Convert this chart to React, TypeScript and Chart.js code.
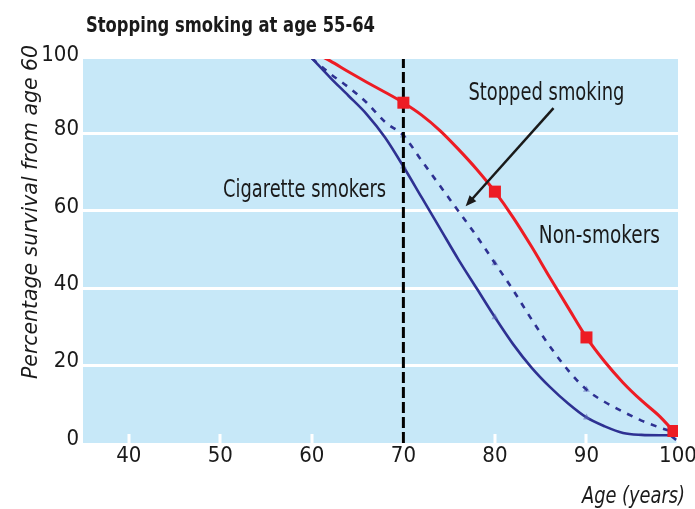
import React, { useEffect, useRef } from "react";
import { Chart, registerables } from "chart.js";

Chart.register(...registerables);

// ---------------- data ----------------
const nonSmokersAge = [60, 62, 64, 66, 68, 70, 72, 74, 76, 78, 80, 82, 84, 86, 88, 90, 92, 94, 96, 98, 99.5];
const nonSmokersPct = [101.3, 98.8, 96, 93.3, 90.7, 88, 84.8, 80.8, 76, 70.8, 65, 58.3, 50.8, 42.8, 35, 27.3, 21, 15.6, 11, 6.9, 3.1];
const nonSmokersMarkerAge = [70, 80, 90, 99.5];

const smokersAge = [60, 62, 64, 66, 68, 70, 72, 74, 76, 78, 80, 82, 84, 86, 88, 90, 92, 94, 96, 98, 99, 99.8];
const smokersPct = [99.5, 94.5, 89.8, 85, 79, 71.5, 63.5, 55.5, 47.5, 40, 32.5, 25.5, 19.5, 14.5, 10.2, 6.6, 4.3, 2.6, 2.1, 2, 2, 0.8];

const stoppedAge = [60, 62, 64, 66, 68, 70, 72, 74, 76, 78, 80, 82, 84, 86, 88, 90, 92, 94, 96, 98, 99.5];
const stoppedPct = [99.5, 95.5, 92, 88, 83, 79.5, 73, 66.5, 60, 53.5, 46.5, 39.5, 32, 25, 18.8, 13.8, 10.6, 8.1, 5.8, 4, 2.8];
const blueMarkerAge = [70, 80, 90];

const stopAgeLine = [70, 70];
const stopAgeLinePct = [0, 100];

const arrowAge = [86.4, 76.8];
const arrowPct = [86.6, 61.2];

const xTickValues = [40, 50, 60, 70, 80, 90, 100];
const yTickValues = [0, 20, 40, 60, 80, 100];

const titleText = "Stopping smoking at age 55-64";
const yTitleText = "Percentage survival from age 60";
const xTitleText = "Age (years)";
const labelTexts = ["Stopped smoking", "Cigarette smokers", "Non-smokers"];
const labelAge = [77.1, 50.3, 84.8];
const labelPct = [88.6, 63.7, 51.6];

// ---------------- styles ----------------
const RED = "#ED1C24";
const BLUE = "#2E3192";
const BG = "#C7E8F8";
const Y_TOP = 99.3;

function hasFont(name: string): boolean {
  const c = document.createElement("canvas").getContext("2d");
  if (!c) return false;
  const t = "Stopping smoking 0123456789 Wmi";
  let ok = false;
  for (const base of ["monospace", "serif"]) {
    c.font = `40px ${base}`;
    const a = c.measureText(t).width;
    c.font = `40px "${name}", ${base}`;
    const b = c.measureText(t).width;
    if (Math.abs(a - b) > 0.5) ok = true;
  }
  return ok;
}

function pickFamily(): { family: string; narrow: boolean } {
  for (const f of ["Liberation Sans Narrow", "Arial Narrow", "DejaVu Sans Condensed", "Roboto Condensed"]) {
    if (hasFont(f)) return { family: `"${f}"`, narrow: true };
  }
  return { family: '"Liberation Sans", Arial, sans-serif', narrow: false };
}

function fitText(
  ctx: CanvasRenderingContext2D,
  text: string,
  x: number,
  y: number,
  width: number,
  font: string,
  color: string
) {
  ctx.save();
  ctx.font = font;
  ctx.fillStyle = color;
  ctx.textAlign = "left";
  ctx.textBaseline = "alphabetic";
  const w = ctx.measureText(text).width;
  ctx.translate(x, y);
  ctx.scale(width / w, 1);
  ctx.fillText(text, 0, 0);
  ctx.restore();
}

const nearest = (ages: number[], vals: number[], a: number) => vals[ages.indexOf(a)];

export default function App() {
  const ref = useRef<HTMLCanvasElement | null>(null);

  useEffect(() => {
    if (!ref.current) return;
    const { family, narrow } = pickFamily();
    const tickSize = narrow ? 22 : 20;

    const bgPlugin = {
      id: "bgPlugin",
      beforeDraw(chart: any) {
        const { ctx, chartArea: a } = chart;
        ctx.save();
        ctx.fillStyle = BG;
        ctx.fillRect(a.left, a.top, a.right - a.left, a.bottom - a.top);
        ctx.restore();
      },
      beforeDatasetsDraw(chart: any) {
        const { ctx, chartArea: a } = chart;
        const xs = chart.scales.x;
        ctx.save();
        ctx.fillStyle = "#ffffff";
        for (const v of xTickValues) {
          const px = xs.getPixelForValue(v);
          ctx.fillRect(Math.round(px) - 1.5, a.bottom - 9, 3, 9);
        }
        ctx.restore();
      },
      afterDatasetsDraw(chart: any) {
        const { ctx } = chart;
        const xs = chart.scales.x;
        const ys = chart.scales.y;
        const x1 = xs.getPixelForValue(arrowAge[0]);
        const y1 = ys.getPixelForValue(arrowPct[0]);
        const x2 = xs.getPixelForValue(arrowAge[1]);
        const y2 = ys.getPixelForValue(arrowPct[1]);
        const ang = Math.atan2(y2 - y1, x2 - x1);
        const hl = 11;
        const hw = 4.5;
        ctx.save();
        ctx.strokeStyle = "#1a1a1a";
        ctx.fillStyle = "#1a1a1a";
        ctx.lineWidth = 2.5;
        ctx.beginPath();
        ctx.moveTo(x1, y1);
        ctx.lineTo(x2 - Math.cos(ang) * hl * 0.8, y2 - Math.sin(ang) * hl * 0.8);
        ctx.stroke();
        ctx.beginPath();
        ctx.moveTo(x2, y2);
        ctx.lineTo(x2 - Math.cos(ang) * hl - Math.sin(ang) * hw, y2 - Math.sin(ang) * hl + Math.cos(ang) * hw);
        ctx.lineTo(x2 - Math.cos(ang) * hl + Math.sin(ang) * hw, y2 - Math.sin(ang) * hl - Math.cos(ang) * hw);
        ctx.closePath();
        ctx.fill();
        ctx.restore();
      },
      afterDraw(chart: any) {
        const { ctx } = chart;
        const xs = chart.scales.x;
        const ys = chart.scales.y;
        // title
        fitText(ctx, titleText, 86, 32, 289, `bold 22px ${family}`, "#1a1a1a");
        // annotations
        const widths = [156, 163, 121];
        labelTexts.forEach((t, i) => {
          fitText(
            ctx,
            t,
            xs.getPixelForValue(labelAge[i]),
            ys.getPixelForValue(labelPct[i]),
            widths[i],
            `24px ${family}`,
            "#1a1a1a"
          );
        });
        // x title
        fitText(ctx, xTitleText, 582, 503, 103, `italic 23px ${family}`, "#1a1a1a");
        // y title
        ctx.save();
        ctx.translate(37, 379);
        ctx.rotate(-Math.PI / 2);
        fitText(ctx, yTitleText, 0, 0, 334, `italic 22px ${family}`, "#1a1a1a");
        ctx.restore();
      },
    };

    const pts = (ages: number[], vals: number[]) => ages.map((a, i) => ({ x: a, y: vals[i] }));

    const chart = new Chart(ref.current, {
      type: "line",
      data: {
        datasets: [
          {
            label: "Non-smokers",
            data: pts(nonSmokersAge, nonSmokersPct),
            borderColor: RED,
            borderWidth: 3,
            pointRadius: 0,
            cubicInterpolationMode: "monotone",
            clip: 0,
            order: 1,
          } as any,
          {
            label: "Non-smokers markers",
            data: nonSmokersMarkerAge.map((a) => ({ x: a, y: nearest(nonSmokersAge, nonSmokersPct, a) })),
            showLine: false,
            pointStyle: "rect",
            pointRadius: 8.5,
            pointBackgroundColor: RED,
            pointBorderColor: RED,
            pointBorderWidth: 0,
            order: 0,
          },
          {
            label: "Stop line",
            data: pts(stopAgeLine, stopAgeLinePct),
            borderColor: "#000000",
            borderWidth: 3,
            borderDash: [11, 4],
            pointRadius: 0,
            clip: 0,
            order: 2,
          } as any,
          {
            label: "Stopped smoking",
            data: pts(stoppedAge, stoppedPct),
            borderColor: BLUE,
            borderWidth: 2.6,
            borderDash: [6, 7],
            pointRadius: 0,
            cubicInterpolationMode: "monotone",
            clip: 0,
            order: 3,
          } as any,
          {
            label: "Cigarette smokers",
            data: pts(smokersAge, smokersPct),
            borderColor: BLUE,
            borderWidth: 2.6,
            pointRadius: 0,
            cubicInterpolationMode: "monotone",
            clip: 0,
            order: 4,
          } as any,
          {
            label: "Blue markers",
            data: [
              ...blueMarkerAge.map((a) => ({ x: a, y: nearest(stoppedAge, stoppedPct, a) })),
              ...blueMarkerAge.map((a) => ({ x: a, y: nearest(smokersAge, smokersPct, a) })),
            ],
            showLine: false,
            pointStyle: "triangle",
            pointRadius: 4,
            pointBackgroundColor: "rgba(90,100,180,0.55)",
            pointBorderWidth: 0,
            order: 3,
          },
        ],
      },
      options: {
        responsive: false,
        devicePixelRatio: 1,
        animation: false,
        events: [],
        layout: { padding: { top: 59, right: 17, bottom: 0, left: 0 } },
        plugins: {
          legend: { display: false },
          tooltip: { enabled: false },
          title: { display: false },
        },
        scales: {
          x: {
            type: "linear",
            min: 35,
            max: 100,
            afterBuildTicks: (s: any) => {
              s.ticks = xTickValues.map((v) => ({ value: v }));
            },
            afterFit: (s: any) => {
              s.height = 66;
              s.paddingLeft = 0;
              s.paddingRight = 0;
            },
            grid: { display: false, drawTicks: false },
            border: { display: false },
            ticks: {
              padding: 0,
              maxRotation: 0,
              autoSkip: false,
              color: "#1a1a1a",
              font: { family, size: tickSize },
              callback: (v: any) => String(v),
            },
          },
          y: {
            type: "linear",
            min: 0,
            max: Y_TOP,
            afterBuildTicks: (s: any) => {
              s.ticks = yTickValues.map((v) => ({ value: Math.min(v, Y_TOP) }));
            },
            afterFit: (s: any) => {
              s.width = 83;
              s.paddingTop = 0;
              s.paddingBottom = 0;
            },
            grid: {
              drawTicks: false,
              lineWidth: 3,
              color: (c: any) =>
                c.tick && c.tick.value > 0.5 && c.tick.value < Y_TOP - 0.5 ? "#ffffff" : "rgba(0,0,0,0)",
            },
            border: { display: false },
            ticks: {
              padding: 4,
              labelOffset: -4,
              autoSkip: false,
              color: "#1a1a1a",
              font: { family, size: tickSize },
              callback: (_v: any, i: number) => String(yTickValues[i]),
            },
          },
        },
      } as any,
      plugins: [bgPlugin],
    });

    return () => chart.destroy();
  }, []);

  return (
    <div style={{ position: "fixed", left: 0, top: 0, width: 695, height: 509, background: "#ffffff" }}>
      <canvas ref={ref} width={695} height={509} style={{ display: "block", width: 695, height: 509 }} />
    </div>
  );
}
